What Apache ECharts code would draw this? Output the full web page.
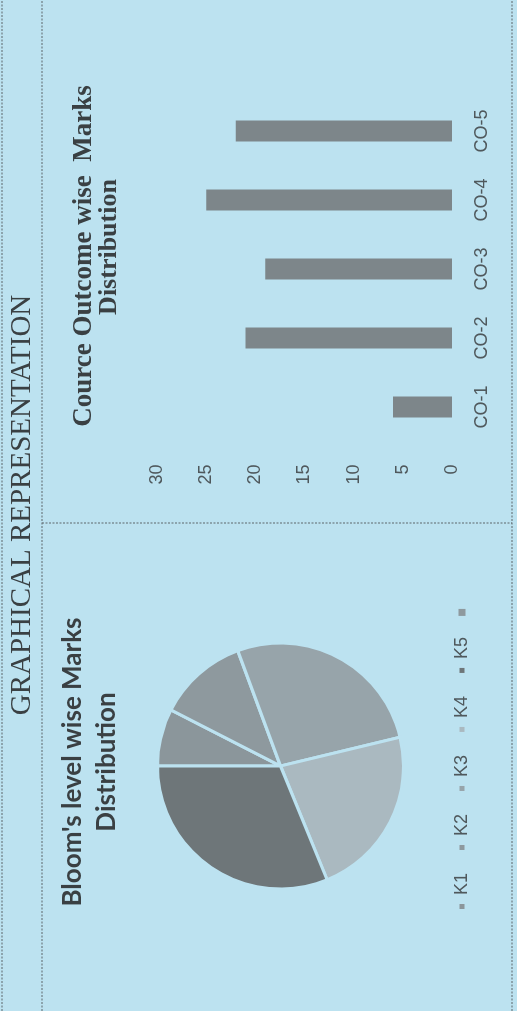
<!DOCTYPE html>
<html><head><meta charset="utf-8">
<script src="https://cdn.jsdelivr.net/npm/echarts@6/dist/echarts.min.js"></script>
<style>
html,body{margin:0;padding:0;width:517px;height:1011px;overflow:hidden;background:#bce2f0;}
#chart{position:absolute;left:0;top:0;width:1011px;height:517px;transform-origin:0 0;transform:translateY(1011px) rotate(-90deg);}
</style></head><body><div id="chart"></div>
<script>
const pageTitle = 'GRAPHICAL REPRESENTATION';
const pieTitleLines = ["Bloom's level wise Marks", 'Distribution'];
const barTitleLines = ['Cource Outcome wise  Marks', 'Distribution'];
const bloomLevels = ['K1', 'K2', 'K3', 'K4', 'K5', ' '];
const bloomMarks = [7, 11, 25, 21, 29, 0];
const bloomColors = ['#8b969b', '#8e999e', '#97a4aa', '#aab9c0', '#6e7679', '#8e999e'];
const courseOutcomes = ['CO-1', 'CO-2', 'CO-3', 'CO-4', 'CO-5'];
const outcomeMarks = [6, 21, 19, 25, 22];
const valueAxisMin = 0, valueAxisMax = 30, valueAxisStep = 5;

const bg = '#bce2f0';
const lineColor = '#5c666b';
const chart = echarts.init(document.getElementById('chart'), null, {renderer: 'canvas'});

function dotted(x1, y1, x2, y2) {
  return {type: 'line', silent: true, shape: {x1, y1, x2, y2},
    style: {stroke: lineColor, lineWidth: 1, lineDash: [2, 1.5]}};
}
function txt(text, x, y, font, fill) {
  return {type: 'text', silent: true, style: {text, x, y, font, fill,
    align: 'center', verticalAlign: 'middle', textAlign: 'center', textVerticalAlign: 'middle'}};
}

const pieData = bloomLevels.map((n, i) => ({
  name: n, value: bloomMarks[i],
  itemStyle: {color: bloomColors[i], borderColor: bg, borderWidth: bloomMarks[i] ? 3 : 0}
}));

chart.setOption({
  backgroundColor: bg,
  animation: false,
  graphic: [
    dotted(0, 2, 1011, 2),
    dotted(0, 42, 1011, 42),
    dotted(0, 512, 1011, 512),
    dotted(488, 42, 488, 512),
    txt(pageTitle, 506, 22, '29px "Liberation Serif"', '#3a4043'),
    txt(pieTitleLines[0], 249, 73, 'bold 26px Lato', '#3a4043'),
    txt(pieTitleLines[1], 249, 107, 'bold 26px Lato', '#3a4043'),
    txt(barTitleLines[0], 755, 84, 'bold 27px "Liberation Serif"', '#3a4043'),
    txt(barTitleLines[1], 764, 109, 'bold 26px "Liberation Serif"', '#3a4043')
  ],
  legend: {
    data: bloomLevels,
    orient: 'horizontal',
    left: 95, top: 448,
    icon: 'rect', itemWidth: 7, itemHeight: 7, itemGap: 21,
    selectedMode: false,
    textStyle: {fontFamily: '"Liberation Sans"', fontSize: 18, color: '#4f585c', padding: [0, 0, 0, 3]}
  },
  grid: {left: 569.5, top: 157, width: 345, height: 295, containLabel: false},
  xAxis: {
    type: 'category', data: courseOutcomes,
    axisLine: {show: false}, axisTick: {show: false}, splitLine: {show: false},
    axisLabel: {fontFamily: '"Liberation Sans"', fontSize: 18, color: '#4f585c', margin: 21}
  },
  yAxis: {
    type: 'value', min: valueAxisMin, max: valueAxisMax, interval: valueAxisStep,
    axisLine: {show: false}, axisTick: {show: false}, splitLine: {show: false},
    axisLabel: {fontFamily: '"Liberation Sans"', fontSize: 18, color: '#4f585c', margin: 23}
  },
  series: [
    {type: 'bar', data: outcomeMarks, barWidth: 21, itemStyle: {color: '#7d868a'}, silent: true},
    {type: 'pie', center: [245, 280.5], radius: 123, startAngle: 90, clockwise: true,
     label: {show: false}, labelLine: {show: false}, silent: true, data: pieData}
  ]
});
</script></body></html>
